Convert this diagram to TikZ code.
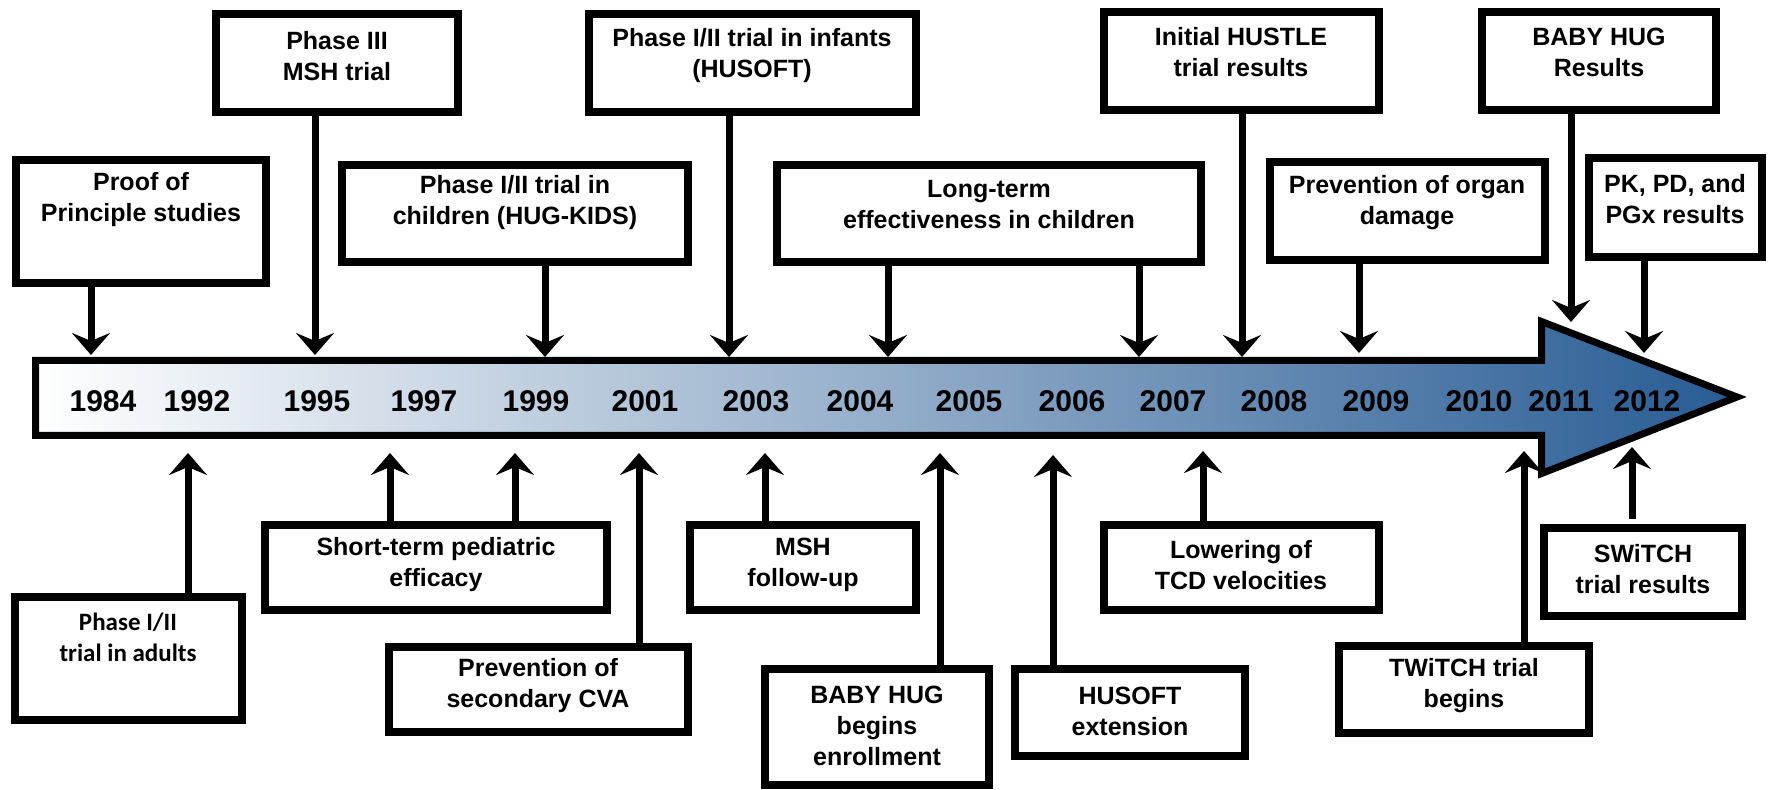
\documentclass[tikz,border=0pt]{standalone}
\usepackage{fontspec}
\setmainfont{Liberation Sans}
\newfontfamily\calfont{Carlito}
\usetikzlibrary{arrows.meta}
\definecolor{tlblue}{RGB}{40,92,148}
\definecolor{tlmid}{RGB}{190,198,213}
\tikzset{
  bx/.style={draw=black, line width=4pt, fill=white, inner sep=0pt, outer sep=0pt},
  txt/.style={font=\bfseries\fontsize{12.5pt}{15.5pt}\selectfont, align=center, inner sep=0pt},
  caltxt/.style={font=\calfont\bfseries\fontsize{12.5pt}{15.5pt}\selectfont, align=center, inner sep=0pt},
  yr/.style={font=\bfseries\fontsize{15pt}{18pt}\selectfont, anchor=base, inner sep=0pt},
  arr/.style={line width=3.5pt, -{Stealth[length=11pt, width=19pt, inset=4pt]}},
  body/.style={line width=3.5pt, line join=miter, left color=white, middle color=tlmid, right color=tlblue}
}
\newcommand{\tlbox}[5]{\node[bx, minimum width={(#4-#2-8)*0.5pt}, minimum height={(#5-#3-8)*0.5pt}] (#1) at ({(#2+#4)/2},{(#3+#5)/2}) {};}
\begin{document}
\begin{tikzpicture}[x=0.5pt,y=-0.5pt]
\useasboundingbox (0,0) rectangle (1772,790);
% timeline arrow
\draw[body] (35.5,360.5) -- (1541.5,360.5) -- (1541.5,321.5) -- (1737,397) -- (1541.5,473.5) -- (1541.5,435.5) -- (35.5,435.5) -- cycle;
% years
\foreach \yx/\yl in {103/1984,197/1992,317/1995,424/1997,536/1999,645/2001,756/2003,860/2004,969/2005,1072/2006,1173/2007,1274/2008,1376/2009,1479/2010,1561/2011,1647/2012}
  \node[yr] (y\yl) at (\yx,412) {\yl};
% top boxes
\tlbox{proof}{12}{156}{270}{287}
\tlbox{phase3}{212}{10}{462}{116}
\tlbox{children}{338}{161}{692}{266}
\tlbox{infants}{585}{10}{920}{116}
\tlbox{longterm}{773}{161}{1205}{266}
\tlbox{hustle}{1100}{8}{1383}{114}
\tlbox{organ}{1266}{158}{1549}{264}
\tlbox{bhres}{1478}{8}{1720}{114}
\tlbox{pk}{1585}{154}{1766}{261}
% bottom boxes
\tlbox{adults}{11}{593}{246}{724}
\tlbox{short}{261}{521}{611}{614}
\tlbox{cva}{385}{643}{692}{736}
\tlbox{msh}{686}{521}{920}{614}
\tlbox{bhbeg}{761}{665}{993}{789}
\tlbox{husext}{1011}{665}{1249}{760}
\tlbox{lower}{1100}{521}{1383}{614}
\tlbox{twitch}{1335}{642}{1593}{737}
\tlbox{switch}{1540}{524}{1746}{620}
% texts
\node[txt] (tproof) at (141,200) {Proof of\\Principle studies};
\node[txt] (tphase3) at (337,56) {Phase III\\MSH trial};
\node[txt] (tchildren) at (515,203) {Phase I/II trial in\\children (HUG-KIDS)};
\node[txt] (tinfants) at (752,56) {Phase I/II trial in infants\\(HUSOFT)};
\node[txt] (tlongterm) at (989,205) {Long-term\\effectiveness in children};
\node[txt] (thustle) at (1241,52) {Initial HUSTLE\\trial results};
\node[txt] (torgan) at (1407,203) {Prevention of organ\\damage};
\node[txt] (tbhres) at (1599,52) {BABY HUG\\Results};
\node[txt] (tpk) at (1675,199) {PK, PD, and\\PGx results};
\node[caltxt] (tadults) at (128,637) {Phase I/II\\trial in adults};
\node[txt] (tshort) at (436,565) {Short-term pediatric\\efficacy};
\node[txt] (tcva) at (538,686) {Prevention of\\secondary CVA};
\node[txt] (tmsh) at (803,565) {MSH\\follow-up};
\node[txt] (tbhbeg) at (877,726) {BABY HUG\\begins\\enrollment};
\node[txt] (thusext) at (1130,711) {HUSOFT\\extension};
\node[txt] (tlower) at (1241,565) {Lowering of\\TCD velocities};
\node[txt] (ttwitch) at (1464,686) {TWiTCH trial\\begins};
\node[txt] (tswitch) at (1643,569) {SWiTCH\\trial results};
% down arrows
\coordinate (d1) at (91,355);
\coordinate (d2) at (315,355);
\coordinate (d3) at (545,357);
\coordinate (d4) at (729,357);
\coordinate (d5) at (888,357);
\coordinate (d6) at (1139,357);
\coordinate (d7) at (1242,357);
\coordinate (d8) at (1359,353);
\coordinate (d9) at (1571,322);
\coordinate (d10) at (1644,353);
\draw[arr] (proof.south -| d1) -- (d1);
\draw[arr] (phase3.south -| d2) -- (d2);
\draw[arr] (children.south -| d3) -- (d3);
\draw[arr] (infants.south -| d4) -- (d4);
\draw[arr] (longterm.south -| d5) -- (d5);
\draw[arr] (longterm.south -| d6) -- (d6);
\draw[arr] (hustle.south -| d7) -- (d7);
\draw[arr] (organ.south -| d8) -- (d8);
\draw[arr] (bhres.south -| d9) -- (d9);
\draw[arr] (pk.south -| d10) -- (d10);
% up arrows
\coordinate (u1) at (188,453);
\coordinate (u2) at (390,453);
\coordinate (u3) at (515,453);
\coordinate (u4) at (639,453);
\coordinate (u5) at (765,453);
\coordinate (u6) at (940,453);
\coordinate (u7) at (1053,455);
\coordinate (u8) at (1203,451);
\coordinate (u9) at (1524,451);
\coordinate (u10) at (1632,447);
\draw[arr] (adults.north -| u1) -- (u1);
\draw[arr] (short.north -| u2) -- (u2);
\draw[arr] (short.north -| u3) -- (u3);
\draw[arr] (cva.north -| u4) -- (u4);
\draw[arr] (msh.north -| u5) -- (u5);
\draw[arr] (bhbeg.north -| u6) -- (u6);
\draw[arr] (husext.north -| u7) -- (u7);
\draw[arr] (lower.north -| u8) -- (u8);
\draw[arr] (twitch.north -| u9) -- (u9);
\draw[arr, shorten <=4.5pt] (switch.north -| u10) -- (u10);
\end{tikzpicture}
\end{document}
